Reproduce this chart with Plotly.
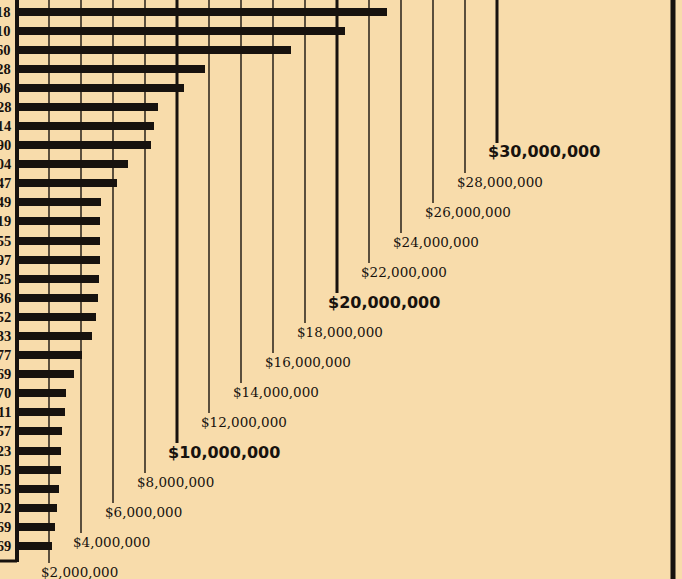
import plotly.graph_objects as go

# Assessed amounts, one bar per row, largest first (dollars)
values = [
    23_128_418, 20_496_210, 17_127_760, 11_749_528, 10_441_896,
    8_811_528, 8_563_214, 8_376_790, 6_937_404, 6_249_847,
    5_251_249, 5_189_619, 5_187_455, 5_185_597, 5_126_125,
    5_062_836, 4_937_352, 4_690_233, 4_062_577, 3_563_369,
    3_061_270, 3_000_511, 2_813_757, 2_748_623, 2_746_305,
    2_627_655, 2_502_002, 2_376_569, 2_190_169,
]
row_labels = [f"${v:,}" for v in values]

# Scale rulings every two million dollars
tick_values = list(range(2_000_000, 30_000_001, 2_000_000))
tick_labels = [f"${v:,}" for v in tick_values]
major_ticks = {10_000_000, 20_000_000, 30_000_000}

W, H = 682, 579
INK = "#17120e"
PAPER = "#f8dcab"

PX_PER_DOLLAR = 16 / 1_000_000
AXIS_PX = 17
ROW_TOP, ROW_STEP = 11.5, 19.09

x_range = [-AXIS_PX / PX_PER_DOLLAR, (W - AXIS_PX) / PX_PER_DOLLAR]
y_range = [(H - ROW_TOP) / ROW_STEP, -ROW_TOP / ROW_STEP]
rows = list(range(len(values)))


def paper_y(px):
    return 1 - px / H


def dollars_from_px(px):
    return px / PX_PER_DOLLAR


fig = go.Figure()
fig.add_trace(go.Bar(
    x=values, y=rows, orientation="h", base=0,
    width=[8 / ROW_STEP] * len(values),
    marker=dict(color=INK, line=dict(width=0)),
    hoverinfo="skip",
))

shapes = []
annotations = []

# Staircase of rulings, each dropping to its own label
for v, lab in zip(tick_values, tick_labels):
    label_px = 572 - 15 * (v / 1_000_000 - 2)
    major = v in major_ticks
    shapes.append(dict(
        type="line", layer="below", xref="x", yref="paper",
        x0=v, x1=v, y0=1, y1=paper_y(label_px - 9),
        line=dict(color=INK, width=3 if major else 1.4),
    ))
    annotations.append(dict(
        xref="x", yref="paper",
        x=v - dollars_from_px(11 if major else 10), y=paper_y(label_px),
        xanchor="left", yanchor="middle", showarrow=False, text=lab,
        font=dict(
            family="DejaVu Sans" if major else "DejaVu Serif",
            size=16 if major else 13.5,
            weight="bold" if major else "normal",
            color=INK,
        ),
    ))

# Row value labels to the left of the base line
for i, lab in enumerate(row_labels):
    annotations.append(dict(
        xref="x", yref="y", x=dollars_from_px(-4), y=i,
        xanchor="right", yanchor="middle", showarrow=False, text=lab,
        font=dict(family="Liberation Serif", size=14.5, weight="bold", color=INK),
    ))

# Base line with its foot, and the heavy right border
shapes += [
    dict(type="line", xref="x", yref="paper", x0=0, x1=0,
         y0=1, y1=paper_y(562), line=dict(color=INK, width=4)),
    dict(type="line", xref="x", yref="paper", x0=dollars_from_px(-AXIS_PX), x1=0,
         y0=paper_y(561), y1=paper_y(561), line=dict(color=INK, width=3)),
    dict(type="line", xref="paper", yref="paper", x0=673 / W, x1=673 / W,
         y0=0, y1=1, line=dict(color=INK, width=5)),
]

fig.update_layout(
    width=W, height=H,
    margin=dict(l=0, r=0, t=0, b=0),
    paper_bgcolor=PAPER, plot_bgcolor=PAPER,
    showlegend=False,
    shapes=shapes, annotations=annotations,
    xaxis=dict(range=x_range, visible=False, fixedrange=True),
    yaxis=dict(range=y_range, visible=False, fixedrange=True),
    bargap=0,
)

fig.write_html("out.html", config={"displayModeBar": False})
